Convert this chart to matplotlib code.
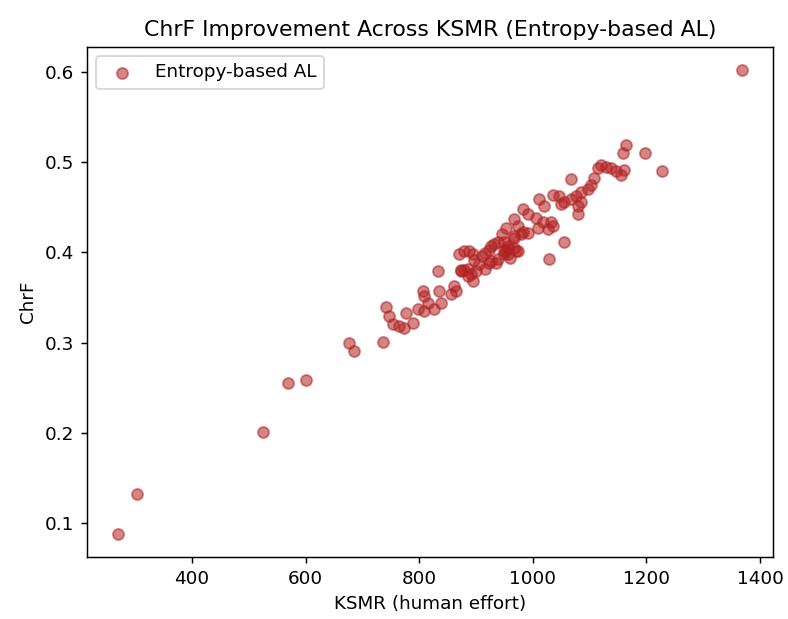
import matplotlib
matplotlib.use("Agg")
import matplotlib.pyplot as plt

ksmr = [270, 304, 525, 569, 600, 676, 685, 737,
        742, 747, 754, 765, 773, 777, 789, 798, 809, 807, 809, 816, 826, 833, 835, 838, 856, 861, 865,
        873, 879, 886, 891, 879, 888, 895, 895, 900, 906, 910, 915, 915, 922, 927, 931, 936, 939, 939,
        945, 950, 950, 957, 957, 966, 966, 974, 980, 992, 950, 971, 957,
        870, 896, 922, 953, 959, 927, 886, 873,
        953, 966, 974, 983, 983, 992, 967, 1006, 1010, 1011, 1018, 1020, 1027, 1032, 1036, 1036, 1046,
        1055, 1055, 1029, 1067, 1080, 1080, 1067, 1050, 1076, 1085, 1085, 1097, 1103, 1108,
        1115, 1120, 1129, 1138, 1146, 1155, 1160, 1164, 1159, 1197, 1227, 1368]
chrf = [0.088, 0.132, 0.201, 0.255, 0.258, 0.300, 0.291, 0.301,
        0.339, 0.329, 0.321, 0.318, 0.316, 0.333, 0.322, 0.337, 0.335, 0.357, 0.352, 0.344, 0.337, 0.379, 0.357, 0.344, 0.354, 0.363, 0.357,
        0.379, 0.381, 0.382, 0.376, 0.401, 0.401, 0.398, 0.368, 0.379, 0.387, 0.396, 0.399, 0.382, 0.403, 0.390, 0.409, 0.388, 0.412, 0.393,
        0.420, 0.412, 0.401, 0.405, 0.398, 0.416, 0.405, 0.401, 0.420, 0.421, 0.398, 0.401, 0.407,
        0.398, 0.392, 0.388, 0.403, 0.394, 0.407, 0.374, 0.381,
        0.427, 0.437, 0.429, 0.448, 0.423, 0.442, 0.418, 0.438, 0.427, 0.459, 0.434, 0.451, 0.426, 0.434, 0.464, 0.429, 0.462,
        0.456, 0.412, 0.393, 0.459, 0.451, 0.443, 0.481, 0.454, 0.462, 0.467, 0.456, 0.470, 0.475, 0.482,
        0.494, 0.497, 0.495, 0.493, 0.490, 0.486, 0.491, 0.519, 0.510, 0.510, 0.490, 0.602]

DPI = 132
fig = plt.figure(figsize=(788 / DPI, 619 / DPI), dpi=DPI)
ax = fig.add_axes([0.1104, 0.1002, 0.8706, 0.8239])
ax.scatter(ksmr, chrf, color="firebrick", alpha=0.55, s=36, label="Entropy-based AL")
ax.set_title("ChrF Improvement Across KSMR (Entropy-based AL)")
ax.set_xlabel("KSMR (human effort)")
ax.set_ylabel("ChrF")
ax.set_xticks([400, 600, 800, 1000, 1200, 1400])
ax.legend(loc="upper left")
fig.savefig("out.png", dpi=DPI)
